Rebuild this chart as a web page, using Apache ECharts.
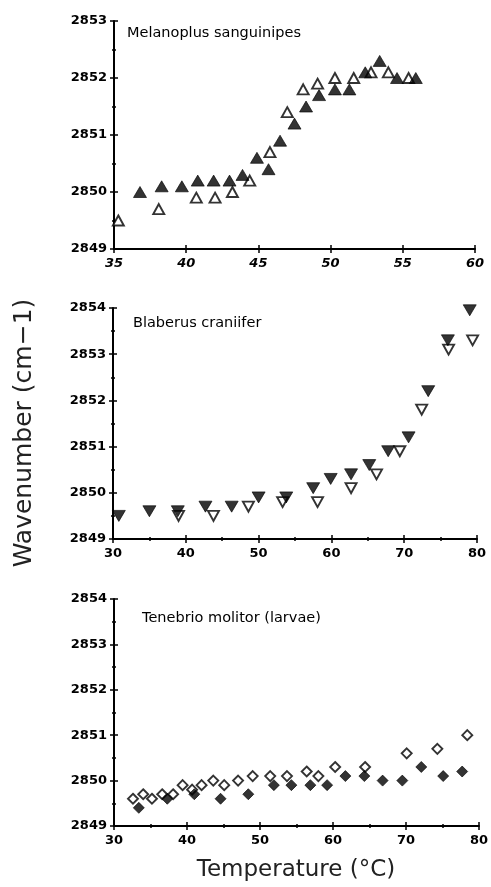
<!DOCTYPE html>
<html>
<head>
<meta charset="utf-8">
<script src="https://cdn.jsdelivr.net/npm/echarts@6/dist/echarts.min.js"></script>
<style>html,body{margin:0;padding:0;background:#fff}#c{width:491px;height:887px}</style>
</head>
<body>
<div id="c"></div>
<script>
// ---- Data ----
const panelTitles = ['Melanoplus sanguinipes', 'Blaberus craniifer', 'Tenebrio molitor (larvae)'];
const yTitle = 'Wavenumber (cm\u22121)';
const xTitle = 'Temperature (\u00B0C)';

// Panel 1: Melanoplus sanguinipes
const melFilledT = [36.8, 38.3, 39.7, 40.8, 41.9, 43.0, 43.9, 44.9, 45.7, 46.5, 47.5, 48.3, 49.2, 50.3, 51.3, 52.4, 53.4, 54.6, 55.9];
const melFilledV = [2850.0, 2850.1, 2850.1, 2850.2, 2850.2, 2850.2, 2850.3, 2850.6, 2850.4, 2850.9, 2851.2, 2851.5, 2851.7, 2851.8, 2851.8, 2852.1, 2852.3, 2852.0, 2852.0];
const melOpenT = [35.3, 38.1, 40.7, 42.0, 43.2, 44.4, 45.8, 47.0, 48.1, 49.1, 50.3, 51.6, 52.8, 54.0, 55.4];
const melOpenV = [2849.5, 2849.7, 2849.9, 2849.9, 2850.0, 2850.2, 2850.7, 2851.4, 2851.8, 2851.9, 2852.0, 2852.0, 2852.1, 2852.1, 2852.0];

// Panel 2: Blaberus craniifer
const blaFilledT = [30.8, 35.0, 38.9, 42.7, 46.3, 50.0, 53.8, 57.5, 59.9, 62.7, 65.2, 67.8, 70.6, 73.3, 76.0, 79.0];
const blaFilledV = [2849.5, 2849.6, 2849.6, 2849.7, 2849.7, 2849.9, 2849.9, 2850.1, 2850.3, 2850.4, 2850.6, 2850.9, 2851.2, 2852.2, 2853.3, 2853.95];
const blaOpenT = [39.0, 43.8, 48.6, 53.3, 58.1, 62.7, 66.2, 69.4, 72.4, 76.1, 79.4];
const blaOpenV = [2849.5, 2849.5, 2849.7, 2849.8, 2849.8, 2850.1, 2850.4, 2850.9, 2851.8, 2853.1, 2853.3];

// Panel 3: Tenebrio molitor (larvae)
const tenFilledT = [33.4, 37.3, 41.0, 44.6, 48.4, 51.9, 54.3, 56.9, 59.2, 61.7, 64.3, 66.8, 69.5, 72.1, 75.1, 77.7];
const tenFilledV = [2849.4, 2849.6, 2849.7, 2849.6, 2849.7, 2849.9, 2849.9, 2849.9, 2849.9, 2850.1, 2850.1, 2850.0, 2850.0, 2850.3, 2850.1, 2850.2];
const tenOpenT = [32.6, 34.0, 35.2, 36.6, 38.1, 39.4, 40.7, 42.0, 43.6, 45.1, 47.0, 49.0, 51.4, 53.7, 56.4, 58.0, 60.3, 64.4, 70.1, 74.3, 78.4];
const tenOpenV = [2849.6, 2849.7, 2849.6, 2849.7, 2849.7, 2849.9, 2849.8, 2849.9, 2850.0, 2849.9, 2850.0, 2850.1, 2850.1, 2850.1, 2850.2, 2850.1, 2850.3, 2850.3, 2850.6, 2850.7, 2851.0];

// Axis ranges [min, max, interval]
const xRanges = [[35, 60, 5], [30, 80, 10], [30, 80, 10]];
const yRanges = [[2849, 2853, 1], [2849, 2854, 1], [2849, 2854, 1]];

// ---- Layout ----
const grids = [
  {left: 114, right: 16, top: 21, height: 228},
  {left: 113, right: 14, top: 308, height: 231},
  {left: 114, right: 11, top: 599, height: 227}
];

const zip = (a, b) => a.map((v, i) => [v, b[i]]);
const font = '"DejaVu Sans", Verdana, sans-serif';
const tickStyle = {color: '#000', width: 1.5};

const xAxes = [], yAxes = [];
grids.forEach((g, i) => {
  const [xmin, xmax, xint] = xRanges[i];
  const [ymin, ymax, yint] = yRanges[i];
  const base = {
    gridIndex: i, type: 'value', splitLine: {show: false}, offset: 0,
    axisLine: {show: true, onZero: false, lineStyle: {color: '#000', width: 2}}
  };
  xAxes.push(Object.assign({}, base, {
    position: 'bottom', min: xmin, max: xmax, interval: xint,
    axisTick: {show: true, length: 4, lineStyle: tickStyle},
    minorTick: {show: i > 0, splitNumber: 2, length: 2, lineStyle: tickStyle},
    axisLabel: {color: '#000', fontFamily: font, fontWeight: 'bold', fontSize: 13, margin: 8,
      fontStyle: i === 0 ? 'italic' : 'normal', formatter: v => String(v)}
  }));
  xAxes.push(Object.assign({}, base, {
    position: 'bottom', min: xmin, max: xmax, interval: xint,
    axisLine: {show: false},
    axisTick: {show: true, inside: true, length: 4, lineStyle: tickStyle},
    minorTick: {show: i > 0, splitNumber: 2, length: 2, lineStyle: tickStyle},
    axisLabel: {show: false}
  }));
  yAxes.push(Object.assign({}, base, {
    position: 'left', min: ymin, max: ymax, interval: yint,
    axisTick: {show: true, length: 4, lineStyle: tickStyle},
    minorTick: {show: true, splitNumber: 2, length: 2, lineStyle: tickStyle},
    axisLabel: {color: '#000', fontFamily: font, fontWeight: 'bold', fontSize: 13, margin: 7,
      formatter: v => String(v)}
  }));
  yAxes.push(Object.assign({}, base, {
    position: 'left', min: ymin, max: ymax, interval: yint,
    axisLine: {show: false},
    axisTick: {show: true, inside: true, length: 4, lineStyle: tickStyle},
    minorTick: {show: true, splitNumber: 2, length: 2, lineStyle: tickStyle},
    axisLabel: {show: false}
  }));
});

function mk(i, data, symbol, filled, size, rotate) {
  return {
    type: 'scatter', xAxisIndex: i * 2, yAxisIndex: i * 2, data: data,
    symbol: symbol, symbolSize: size, symbolRotate: rotate || 0,
    itemStyle: filled ? {color: '#000', borderColor: '#000', borderWidth: 0.8}
                      : {color: '#fff', borderColor: '#000', borderWidth: 1.9},
    silent: true, z: filled ? 3 : 2
  };
}

const series = [
  mk(0, zip(melOpenT, melOpenV), 'triangle', false, [11, 10]),
  mk(0, zip(melFilledT, melFilledV), 'triangle', true, [13, 11]),
  mk(1, zip(blaOpenT, blaOpenV), 'triangle', false, [11, 10], 180),
  mk(1, zip(blaFilledT, blaFilledV), 'triangle', true, [13, 11], 180),
  mk(2, zip(tenOpenT, tenOpenV), 'diamond', false, [10, 10]),
  mk(2, zip(tenFilledT, tenFilledV), 'diamond', true, [11, 11])
];

const titlePos = [[127, 33], [133, 323], [142, 618]];
const graphic = panelTitles.map((t, i) => ({
  type: 'text', x: titlePos[i][0], y: titlePos[i][1],
  style: {text: t, fill: '#000', font: '14.5px ' + font, textVerticalAlign: 'middle'}
}));
graphic.push({
  type: 'text', x: 24, y: 433, rotation: Math.PI / 2,
  style: {text: yTitle, fill: '#222', font: '25px "DejaVu Sans", sans-serif',
    textAlign: 'center', textVerticalAlign: 'middle'}
});
graphic.push({
  type: 'text', x: 296, y: 870,
  style: {text: xTitle, fill: '#222', font: '23px "DejaVu Sans", sans-serif',
    textAlign: 'center', textVerticalAlign: 'middle'}
});

const chart = echarts.init(document.getElementById('c'));
chart.setOption({
  animation: false,
  backgroundColor: '#fff',
  grid: grids,
  xAxis: xAxes,
  yAxis: yAxes,
  series: series,
  graphic: graphic
});
</script>
</body>
</html>
